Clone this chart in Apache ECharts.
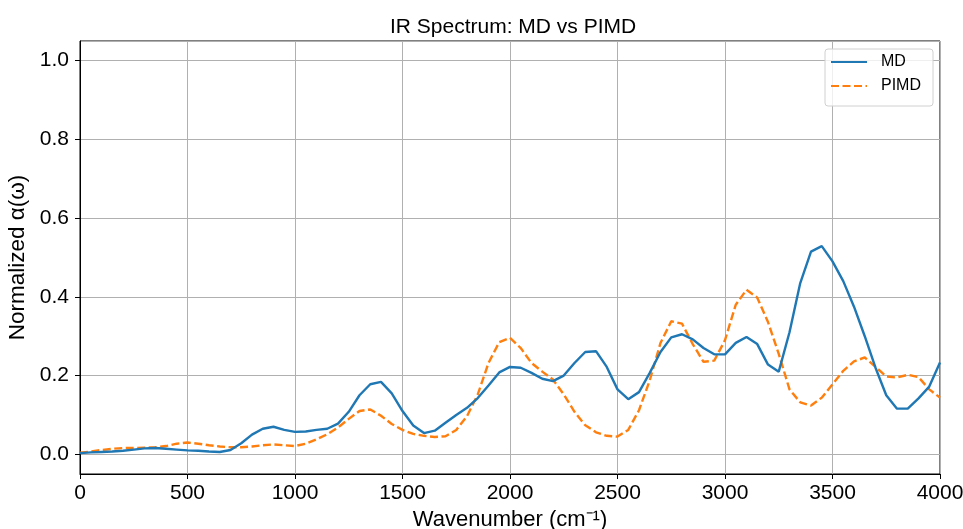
<!DOCTYPE html>
<html>
<head>
<meta charset="utf-8">
<script src="https://cdn.jsdelivr.net/npm/echarts@6/dist/echarts.min.js"></script>
<style>
html,body{margin:0;padding:0;background:#fff;}
#chart{width:963px;height:529px;}
</style>
</head>
<body>
<div id="chart"></div>
<script>
// Wavenumbers (cm^-1), step 50
const wavenumbers = [];
for (let w = 0; w <= 4000; w += 50) wavenumbers.push(w);

const mdValues = [
  0.003, 0.005, 0.006, 0.007, 0.009, 0.012, 0.015, 0.016, 0.014, 0.012,
  0.010, 0.009, 0.007, 0.006, 0.011, 0.028, 0.050, 0.065, 0.070, 0.062,
  0.057, 0.058, 0.062, 0.065, 0.078, 0.108, 0.150, 0.178, 0.184, 0.155,
  0.110, 0.073, 0.054, 0.060, 0.080, 0.100, 0.118, 0.143, 0.175, 0.208,
  0.222, 0.220, 0.207, 0.192, 0.186, 0.200, 0.232, 0.260, 0.262, 0.222,
  0.165, 0.140, 0.158, 0.207, 0.260, 0.297, 0.305, 0.292, 0.270, 0.254,
  0.254, 0.283, 0.298, 0.280, 0.228, 0.210, 0.310, 0.435, 0.515, 0.529,
  0.490, 0.440, 0.375, 0.300, 0.220, 0.150, 0.116, 0.116, 0.142, 0.172,
  0.233
];

const pimdValues = [
  0.004, 0.007, 0.011, 0.014, 0.016, 0.016, 0.017, 0.018, 0.021, 0.027,
  0.030, 0.027, 0.023, 0.020, 0.018, 0.018, 0.020, 0.023, 0.025, 0.023,
  0.021, 0.027, 0.038, 0.051, 0.068, 0.090, 0.110, 0.114, 0.098, 0.077,
  0.062, 0.052, 0.047, 0.044, 0.046, 0.062, 0.097, 0.152, 0.232, 0.285,
  0.296, 0.270, 0.232, 0.210, 0.190, 0.152, 0.108, 0.074, 0.056, 0.047,
  0.045, 0.062, 0.112, 0.188, 0.283, 0.338, 0.332, 0.280, 0.235, 0.238,
  0.290, 0.380, 0.418, 0.398, 0.336, 0.255, 0.165, 0.132, 0.124, 0.144,
  0.178, 0.212, 0.236, 0.246, 0.222, 0.198, 0.195, 0.202, 0.196, 0.165,
  0.144
];

const seriesNames = ['MD', 'PIMD'];
const xTicks = [0, 500, 1000, 1500, 2000, 2500, 3000, 3500, 4000];
const yTicks = [0.0, 0.2, 0.4, 0.6, 0.8, 1.0];

const FONT = "'Liberation Sans', Arial, sans-serif";
const chart = echarts.init(document.getElementById('chart'), null, {renderer: 'canvas'});

chart.setOption({
  animation: false,
  backgroundColor: '#fff',
  textStyle: {fontFamily: FONT},
  title: {
    text: 'IR Spectrum: MD vs PIMD',
    left: 385, top: 12,
    textStyle: {fontFamily: FONT, fontSize: 21, fontWeight: 'normal', color: '#000'}
  },
  legend: {
    data: seriesNames,
    orient: 'vertical',
    right: 30, top: 49,
    padding: [5, 12, 12, 5],
    itemWidth: 36, itemHeight: 14, itemGap: 8,
    backgroundColor: 'rgba(255,255,255,0.8)',
    borderColor: '#d0d0d0', borderWidth: 1, borderRadius: 3,
    itemStyle: {color: 'rgba(0,0,0,0)', borderWidth: 0},
    textStyle: {fontFamily: FONT, fontSize: 16, color: '#000', padding: [0, 0, 0, 9]}
  },
  grid: {
    left: 80, right: 23, top: 41, bottom: 55,
    outerBoundsMode: 'none',
    show: true, borderColor: '#000', borderWidth: 1, containLabel: false
  },
  xAxis: {
    type: 'value', min: 0, max: 4000, interval: 500,
    name: 'Wavenumber (cm⁻¹)', nameLocation: 'middle', nameGap: 31,
    nameTextStyle: {fontFamily: FONT, fontSize: 22, color: '#000'},
    axisLine: {show: true, onZero: false, lineStyle: {color: '#000', width: 1}},
    axisTick: {show: true, length: 5, lineStyle: {color: '#000'}},
    axisLabel: {fontFamily: FONT, fontSize: 21, color: '#000', margin: 9,
      formatter: v => xTicks.includes(v) ? String(v) : ''},
    splitLine: {show: true, lineStyle: {color: '#b0b0b0', width: 1}}
  },
  yAxis: {
    type: 'value', min: -0.05, max: 1.05, splitNumber: 5,
    name: 'Normalized α(ω)', nameLocation: 'middle', nameGap: 36,
    nameTextStyle: {fontFamily: FONT, fontSize: 22.5, color: '#000'},
    axisLine: {show: true, onZero: false, lineStyle: {color: '#000', width: 1}},
    axisTick: {show: true, length: 5, lineStyle: {color: '#000'}},
    axisLabel: {fontFamily: FONT, fontSize: 21, color: '#000', margin: 11,
      showMinLabel: false, showMaxLabel: false,
      formatter: v => {
        const hit = yTicks.find(t => Math.abs(t - v) < 1e-6);
        return hit === undefined ? '' : hit.toFixed(1);
      }},
    splitLine: {show: true, lineStyle: {color: '#b0b0b0', width: 1}}
  },
  series: [
    {
      name: seriesNames[0], type: 'line', symbol: 'none', showSymbol: false,
      data: wavenumbers.map((w, i) => [w, mdValues[i]]),
      lineStyle: {color: '#1f77b4', width: 2.4},
      itemStyle: {color: '#1f77b4'},
      smooth: false, z: 3
    },
    {
      name: seriesNames[1], type: 'line', symbol: 'none', showSymbol: false,
      data: wavenumbers.map((w, i) => [w, pimdValues[i]]),
      lineStyle: {color: '#ff7f0e', width: 2.4, type: [8, 3.5]},
      itemStyle: {color: '#ff7f0e'},
      smooth: false, z: 2
    }
  ]
});
</script>
</body>
</html>
